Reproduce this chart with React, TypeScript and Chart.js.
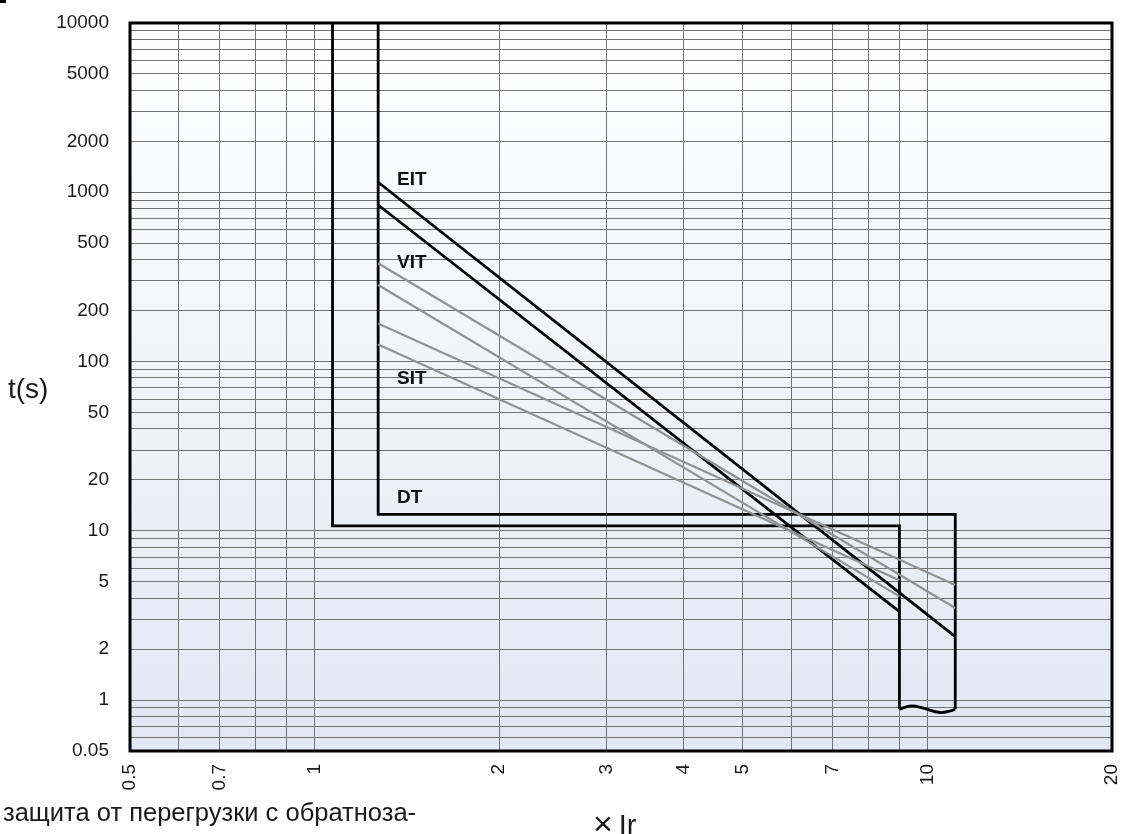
import React, { useEffect, useRef } from 'react';
import { Chart, registerables } from 'chart.js';

Chart.register(...registerables);

const FONT = '"Liberation Sans", Arial, Helvetica, sans-serif';

// ---- axis ticks ----
const xTickValues = [0.5, 0.6, 0.7, 0.8, 0.9, 1, 2, 3, 4, 5, 6, 7, 8, 9, 10, 20];
const xLabelValues = [0.5, 0.7, 1, 2, 3, 4, 5, 7, 10, 20];
const xLabelTexts = ['0.5', '0.7', '1', '2', '3', '4', '5', '7', '10', '20'];

const yTickValues = [
  0.5, 0.6, 0.7, 0.8, 0.9,
  1, 2, 3, 4, 5, 6, 7, 8, 9,
  10, 20, 30, 40, 50, 60, 70, 80, 90,
  100, 200, 300, 400, 500, 600, 700, 800, 900,
  1000, 2000, 3000, 4000, 5000, 6000, 7000, 8000, 9000,
  10000,
];
const yLabelValues = [0.5, 1, 2, 5, 10, 20, 50, 100, 200, 500, 1000, 2000, 5000, 10000];
const yLabelTexts = ['0.05', '1', '2', '5', '10', '20', '50', '100', '200', '500', '1000', '2000', '5000', '10000'];

// ---- curves (x = multiple of Ir, y = time in s) ----
const envOuterX = [1.07, 1.07, 9.0, 9.0];
const envOuterY = [10000, 10.7, 10.7, 0.884];
const envInnerX = [11.1, 11.1, 1.27, 1.27];
const envInnerY = [0.884, 12.5, 12.5, 10000];
const waveX = [9.0, 9.42, 9.84, 10.48, 10.95, 11.1];
const waveY = [0.884, 0.924, 0.896, 0.844, 0.867, 0.884];

const eitHighX = [1.27, 11.1];
const eitHighY = [1146, 2.37];
const eitLowX = [1.27, 9.0];
const eitLowY = [841, 3.33];

const vitHighX = [1.27, 11.1];
const vitHighY = [381, 3.5];
const vitLowX = [1.27, 9.0];
const vitLowY = [283, 4.1];

const sitHighX = [1.27, 11.1];
const sitHighY = [168, 4.79];
const sitLowX = [1.27, 9.0];
const sitLowY = [126, 5.1];

// ---- curve labels ----
const curveLabels = ['EIT', 'VIT', 'SIT', 'DT'];
const curveLabelX = [1.363, 1.363, 1.363, 1.363];
const curveLabelY = [1182, 385, 78.9, 15.6];

const BLACK = '#000000';
const GRAY = '#929292';
const GRID = '#747474';

const pts = (xs: number[], ys: number[]) => xs.map((x, i) => ({ x, y: ys[i] }));

export default function App() {
  const ref = useRef<HTMLCanvasElement | null>(null);

  useEffect(() => {
    if (!ref.current) return;

    const bgPlugin = {
      id: 'bgGradient',
      beforeDraw(chart: any) {
        const { ctx, chartArea } = chart;
        if (!chartArea) return;
        const g = ctx.createLinearGradient(0, chartArea.top, 0, chartArea.bottom);
        g.addColorStop(0, '#ffffff');
        g.addColorStop(1, '#e1e7f3');
        ctx.save();
        ctx.fillStyle = g;
        ctx.fillRect(chartArea.left, chartArea.top, chartArea.right - chartArea.left, chartArea.bottom - chartArea.top);
        ctx.restore();
      },
    };

    const labelPlugin = {
      id: 'curveLabels',
      afterDatasetsDraw(chart: any) {
        const { ctx, scales } = chart;
        ctx.save();
        ctx.font = `bold 19px ${FONT}`;
        ctx.fillStyle = '#111';
        ctx.textAlign = 'left';
        ctx.textBaseline = 'middle';
        curveLabels.forEach((t, i) => {
          ctx.fillText(t, scales.x.getPixelForValue(curveLabelX[i]), scales.y.getPixelForValue(curveLabelY[i]));
        });
        ctx.restore();
      },
    };

    const framePlugin = {
      id: 'frame',
      afterDraw(chart: any) {
        const { ctx, chartArea } = chart;
        ctx.save();
        ctx.strokeStyle = '#000';
        ctx.lineWidth = 3;
        ctx.strokeRect(chartArea.left, chartArea.top, chartArea.right - chartArea.left, chartArea.bottom - chartArea.top);
        ctx.restore();
      },
    };

    const line = (xs: number[], ys: number[], color: string, width: number, tension = 0) => ({
      data: pts(xs, ys),
      showLine: true,
      borderColor: color,
      borderWidth: width,
      pointRadius: 0,
      tension,
      fill: false,
    });

    const chart = new Chart(ref.current, {
      type: 'scatter',
      data: {
        datasets: [
          line(sitHighX, sitHighY, GRAY, 2.2),
          line(sitLowX, sitLowY, GRAY, 2.2),
          line(vitHighX, vitHighY, GRAY, 2.2),
          line(vitLowX, vitLowY, GRAY, 2.2),
          line(eitHighX, eitHighY, BLACK, 2.8),
          line(eitLowX, eitLowY, BLACK, 2.8),
          line(envOuterX, envOuterY, BLACK, 2.8),
          line(envInnerX, envInnerY, BLACK, 2.8),
          line(waveX, waveY, BLACK, 2.8, 0.4),
        ] as any,
      },
      options: {
        responsive: false,
        animation: false,
        devicePixelRatio: 1,
        layout: { padding: { top: 23, right: 14, left: 0, bottom: 0 } },
        plugins: {
          legend: { display: false },
          tooltip: { enabled: false },
          title: { display: false },
        },
        scales: {
          x: {
            type: 'logarithmic',
            min: 0.5,
            max: 20,
            afterBuildTicks: (s: any) => {
              s.ticks = xTickValues.map((v) => ({ value: v }));
            },
            afterFit: (s: any) => {
              s.height = 83;
              s.paddingLeft = 0;
              s.paddingRight = 0;
            },
            ticks: {
              autoSkip: false,
              maxRotation: 90,
              minRotation: 90,
              padding: 13,
              color: '#1a1a1a',
              font: { family: FONT, size: 19 },
              callback: (v: any) => {
                const i = xLabelValues.indexOf(Number(v));
                return i >= 0 ? xLabelTexts[i] : '';
              },
            },
            grid: { color: GRID, lineWidth: 1, drawTicks: false },
            border: { display: false },
          },
          y: {
            type: 'logarithmic',
            min: 0.5,
            max: 10000,
            afterBuildTicks: (s: any) => {
              s.ticks = yTickValues.map((v) => ({ value: v }));
            },
            afterFit: (s: any) => {
              s.width = 130;
              s.paddingTop = 0;
              s.paddingBottom = 0;
            },
            ticks: {
              autoSkip: false,
              padding: 21,
              color: '#1a1a1a',
              font: { family: FONT, size: 19 },
              callback: (v: any) => {
                const i = yLabelValues.indexOf(Number(v));
                return i >= 0 ? yLabelTexts[i] : '';
              },
            },
            grid: { color: GRID, lineWidth: 1, drawTicks: false },
            border: { display: false },
          },
        },
      } as any,
      plugins: [bgPlugin, labelPlugin, framePlugin],
    });

    return () => chart.destroy();
  }, []);

  return (
    <div style={{ position: 'fixed', left: 0, top: 0, width: 1126, height: 834, background: '#fff', overflow: 'hidden' }}>
      <canvas ref={ref} width={1126} height={834} style={{ position: 'absolute', left: 0, top: 0, width: 1126, height: 834 }} />
      <div style={{ position: 'absolute', left: 0, top: 0, width: 6, height: 3, background: '#000' }} />
      <div style={{ position: 'absolute', left: 8, top: 375, fontFamily: FONT, fontSize: 28, lineHeight: 1, color: '#1a1a1a', whiteSpace: 'nowrap' }}>t(s)</div>
      <div style={{ position: 'absolute', left: 593, top: 806, fontFamily: FONT, fontSize: 29, lineHeight: 1, color: '#1a1a1a', whiteSpace: 'nowrap' }}>
        <span style={{ fontSize: 34 }}>×</span>
        <span>{'\u2009Ir'}</span>
      </div>
      <div style={{ position: 'absolute', left: 3, top: 800, fontFamily: FONT, fontSize: 25.5, lineHeight: 1, color: '#1a1a1a', whiteSpace: 'nowrap' }}>защита от перегрузки с обратноза-</div>
    </div>
  );
}
